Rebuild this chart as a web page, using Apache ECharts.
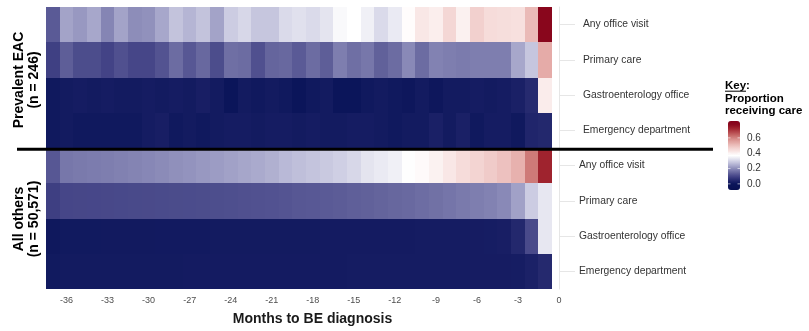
<!DOCTYPE html>
<html>
<head>
<meta charset="utf-8">
<script src="https://cdn.jsdelivr.net/npm/echarts@6/dist/echarts.min.js"></script>
<style>
  html, body { margin: 0; padding: 0; background: #ffffff; }
  #chart { width: 809px; height: 331px; }
</style>
</head>
<body>
<div id="chart"></div>
<script>
// Months before the BE diagnosis (one tile per month)
const months = [-37, -36, -35, -34, -33, -32, -31, -30, -29, -28, -27, -26, -25, -24, -23, -22, -21, -20, -19,
                -18, -17, -16, -15, -14, -13, -12, -11, -10, -9, -8, -7, -6, -5, -4, -3, -2, -1];

const xTickValues = [-36, -33, -30, -27, -24, -21, -18, -15, -12, -9, -6, -3, 0];

// Rows, top to bottom: group | type of care
const rowKeys = [
  'EAC|Any office visit', 'EAC|Primary care', 'EAC|Gastroenterology office', 'EAC|Emergency department',
  'OTH|Any office visit', 'OTH|Primary care', 'OTH|Gastroenterology office', 'OTH|Emergency department'
];

// Prevalent EAC (n = 246): proportion receiving each type of care per month
const eacAnyOffice = [0.130, 0.230, 0.215, 0.235, 0.190, 0.230, 0.200, 0.205, 0.235, 0.275, 0.255, 0.275, 0.230,
                      0.290, 0.305, 0.280, 0.280, 0.310, 0.320, 0.310, 0.325, 0.360, 0.370, 0.345, 0.310, 0.335,
                      0.375, 0.420, 0.405, 0.455, 0.400, 0.470, 0.445, 0.440, 0.435, 0.510, 0.790];
const eacPrimary   = [0.090, 0.135, 0.110, 0.110, 0.095, 0.115, 0.100, 0.100, 0.120, 0.155, 0.125, 0.150, 0.110,
                      0.160, 0.155, 0.115, 0.145, 0.150, 0.130, 0.155, 0.135, 0.180, 0.160, 0.170, 0.140, 0.155,
                      0.195, 0.155, 0.185, 0.180, 0.175, 0.180, 0.180, 0.180, 0.235, 0.280, 0.535];
const eacGI        = [0.010, 0.015, 0.020, 0.015, 0.020, 0.015, 0.015, 0.020, 0.015, 0.020, 0.015, 0.025, 0.015,
                      0.000, 0.015, 0.010, 0.015, 0.010, 0.000, 0.010, 0.015, 0.000, 0.000, 0.010, 0.015, 0.010,
                      0.005, 0.015, 0.005, 0.015, 0.015, 0.020, 0.015, 0.020, 0.030, 0.050, 0.410];
const eacED        = [0.010, 0.015, 0.010, 0.010, 0.010, 0.010, 0.010, 0.020, 0.025, 0.010, 0.015, 0.010, 0.015,
                      0.020, 0.020, 0.015, 0.020, 0.020, 0.015, 0.020, 0.015, 0.015, 0.020, 0.020, 0.015, 0.010,
                      0.015, 0.015, 0.030, 0.015, 0.030, 0.010, 0.020, 0.020, 0.010, 0.040, 0.045];

// All others (n = 50,571)
const othAnyOffice = [0.125, 0.170, 0.174, 0.177, 0.180, 0.184, 0.188, 0.193, 0.198, 0.204, 0.209, 0.215, 0.221,
                      0.228, 0.234, 0.240, 0.248, 0.262, 0.270, 0.277, 0.285, 0.294, 0.305, 0.325, 0.335, 0.345,
                      0.368, 0.380, 0.398, 0.420, 0.445, 0.462, 0.478, 0.497, 0.525, 0.610, 0.725];
const othPrimary   = [0.088, 0.100, 0.101, 0.102, 0.103, 0.104, 0.105, 0.106, 0.107, 0.108, 0.109, 0.110, 0.112,
                      0.113, 0.115, 0.117, 0.119, 0.122, 0.125, 0.127, 0.130, 0.133, 0.137, 0.140, 0.144, 0.148,
                      0.152, 0.157, 0.162, 0.168, 0.174, 0.180, 0.186, 0.195, 0.228, 0.290, 0.330];
const othGI        = [0.008, 0.012, 0.012, 0.012, 0.013, 0.013, 0.013, 0.013, 0.014, 0.014, 0.014, 0.014, 0.015,
                      0.015, 0.015, 0.015, 0.016, 0.016, 0.016, 0.016, 0.017, 0.017, 0.017, 0.017, 0.018, 0.018,
                      0.018, 0.019, 0.019, 0.020, 0.020, 0.021, 0.022, 0.025, 0.045, 0.105, 0.330];
const othED        = [0.012, 0.015, 0.015, 0.015, 0.015, 0.016, 0.016, 0.016, 0.016, 0.016, 0.017, 0.017, 0.017,
                      0.017, 0.017, 0.017, 0.018, 0.018, 0.018, 0.018, 0.018, 0.018, 0.019, 0.019, 0.019, 0.019,
                      0.019, 0.020, 0.020, 0.020, 0.020, 0.021, 0.021, 0.021, 0.022, 0.032, 0.048];

const rowValues = [eacAnyOffice, eacPrimary, eacGI, eacED, othAnyOffice, othPrimary, othGI, othED];

// Colour key
const keyMin = -0.08;
const keyMax = 0.82;
const keyTicks = [0.0, 0.2, 0.4, 0.6];

// Diverging navy - white - dark red ramp (value, colour)
const rampAnchors = [
  [-0.08, '#080f50'], [0.00, '#0b155a'], [0.03, '#1a2066'], [0.06, '#2c2f74'], [0.09, '#3f4083'],
  [0.12, '#535391'], [0.15, '#68689f'], [0.18, '#7e7eaf'], [0.21, '#9494be'], [0.24, '#aaaacd'],
  [0.27, '#bfbfda'], [0.30, '#d3d3e6'], [0.33, '#e7e7f1'], [0.37, '#ffffff'], [0.42, '#f9e7e6'],
  [0.47, '#f2d0ce'], [0.52, '#e8b4b1'], [0.57, '#dc9794'], [0.62, '#cb7371'], [0.67, '#b74b4f'],
  [0.72, '#a12530'], [0.77, '#8c0a1e'], [0.82, '#840019']
];

function hexToRgb(h) {
  return [parseInt(h.slice(1, 3), 16), parseInt(h.slice(3, 5), 16), parseInt(h.slice(5, 7), 16)];
}
function rampColor(v) {
  for (let k = 1; k < rampAnchors.length; k++) {
    const [v1, c1] = rampAnchors[k - 1];
    const [v2, c2] = rampAnchors[k];
    if (v <= v2 || k === rampAnchors.length - 1) {
      const t = Math.max(0, Math.min(1, (v - v1) / (v2 - v1)));
      const a = hexToRgb(c1), b = hexToRgb(c2);
      const c = a.map((x, j) => Math.round(x + (b[j] - x) * t));
      return 'rgb(' + c.join(',') + ')';
    }
  }
}
const rampStops = [];
for (let s = 0; s <= 90; s++) rampStops.push(rampColor(keyMin + (keyMax - keyMin) * s / 90));

// Tiles: [month, row index, proportion]
const cells = [];
rowValues.forEach((vals, r) => vals.forEach((v, i) => cells.push([months[i], r, v])));

const FONT = '"Liberation Sans", Arial, Helvetica, sans-serif';

// Layout of the colour key
const keyLeft = 728, keyTop = 121, keyW = 12, keyH = 69;
const keyY = v => keyTop + keyH - (v - keyMin) / (keyMax - keyMin) * keyH;

const chart = echarts.init(document.getElementById('chart'), null, { renderer: 'canvas' });

const graphics = [
  // divider between the two cohorts
  { type: 'line', shape: { x1: 17, y1: 149.3, x2: 713, y2: 149.3 }, style: { stroke: '#000', lineWidth: 3 }, z: 100 },
  {
    type: 'text', x: 27, y: 80, rotation: Math.PI / 2,
    style: { text: 'Prevalent EAC\n(n = 246)', fontFamily: FONT, fontSize: 14, fontWeight: 'bold',
             fill: '#000', align: 'center', verticalAlign: 'middle', lineHeight: 15 }
  },
  {
    type: 'text', x: 27, y: 219, rotation: Math.PI / 2,
    style: { text: 'All others\n(n = 50,571)', fontFamily: FONT, fontSize: 14, fontWeight: 'bold',
             fill: '#000', align: 'center', verticalAlign: 'middle', lineHeight: 15 }
  },
  // key title
  { type: 'text', x: 725, y: 85.5, style: { text: 'Key:', fontFamily: FONT, fontSize: 11.5, fontWeight: 'bold', fill: '#000', verticalAlign: 'middle' } },
  { type: 'line', shape: { x1: 725, y1: 91.2, x2: 746, y2: 91.2 }, style: { stroke: '#000', lineWidth: 1 } },
  { type: 'text', x: 725, y: 98.5, style: { text: 'Proportion', fontFamily: FONT, fontSize: 11.5, fontWeight: 'bold', fill: '#000', verticalAlign: 'middle' } },
  { type: 'text', x: 725, y: 110.5, style: { text: 'receiving care', fontFamily: FONT, fontSize: 11.5, fontWeight: 'bold', fill: '#000', verticalAlign: 'middle' } }
];
keyTicks.forEach(v => {
  const y = keyY(v);
  graphics.push({ type: 'text', x: 747, y: y, style: { text: v.toFixed(1), fontFamily: FONT, fontSize: 10, fill: '#333', verticalAlign: 'middle' }, z: 10 });
  graphics.push({ type: 'line', shape: { x1: keyLeft, y1: y, x2: keyLeft + 2.5, y2: y }, style: { stroke: '#fff', lineWidth: 0.6 }, z: 10 });
  graphics.push({ type: 'line', shape: { x1: keyLeft + keyW - 2.5, y1: y, x2: keyLeft + keyW, y2: y }, style: { stroke: '#fff', lineWidth: 0.6 }, z: 10 });
});

chart.setOption({
  animation: false,
  backgroundColor: '#ffffff',
  textStyle: { fontFamily: FONT },
  grid: { left: 46, top: 7, width: 513, height: 284, containLabel: false },
  xAxis: {
    type: 'value', min: -37.5, max: 0,
    axisLine: { show: false },
    axisTick: { show: false, customValues: xTickValues },
    axisLabel: { customValues: xTickValues, fontSize: 9, color: '#4d4d4d', margin: 7, fontFamily: FONT },
    splitLine: { show: true, lineStyle: { color: '#ebebeb', width: 1 } },
    name: 'Months to BE diagnosis', nameLocation: 'middle', nameGap: 23,
    nameTextStyle: { fontFamily: FONT, fontSize: 14, fontWeight: 'bold', color: '#1a1a1a', padding: [0, 0, 0, 20] }
  },
  yAxis: {
    type: 'category', data: rowKeys, inverse: true, position: 'right',
    axisLine: { show: true, lineStyle: { color: '#e6e6e6', width: 1 } },
    axisTick: { show: true, alignWithLabel: true, length: 16, lineStyle: { color: '#e6e6e6', width: 1 } },
    axisLabel: {
      margin: 20, fontSize: 10.3, color: '#333', fontFamily: FONT,
      formatter: k => {
        const [grp, name] = k.split('|');
        return grp === 'EAC' ? '{a|' + name + '}' : '{b|' + name + '}';
      },
      rich: {
        a: { fontSize: 10.3, color: '#333', fontFamily: FONT, padding: [0, 0, 0, 4] },
        b: { fontSize: 10.3, color: '#333', fontFamily: FONT }
      }
    },
    splitLine: { show: false }
  },
  visualMap: {
    type: 'continuous', seriesIndex: 0, dimension: 2,
    min: keyMin, max: keyMax, calculable: false, realtime: false, hoverLink: false,
    orient: 'vertical', left: keyLeft, top: keyTop, padding: 0,
    itemWidth: keyW, itemHeight: keyH, text: null, showLabel: false,
    inRange: { color: rampStops }
  },
  series: [{
    type: 'custom',
    data: cells,
    encode: { x: 0, y: 1 },
    renderItem: (params, api) => {
      const m = api.value(0), r = api.value(1);
      const p0 = api.coord([m - 0.5, r]);
      const p1 = api.coord([m + 0.5, r]);
      const h = api.size([0, 1])[1];
      // snap tile edges to whole pixels so neighbouring tiles meet without seams
      const x0 = Math.round(p0[0]), x1 = Math.round(p1[0]);
      const y0 = Math.round(p0[1] - h / 2), y1 = Math.round(p0[1] + h / 2);
      return {
        type: 'rect',
        shape: { x: x0, y: y0, width: x1 - x0, height: y1 - y0 },
        style: { fill: api.visual('color') }
      };
    }
  }],
  graphic: graphics
});
</script>
</body>
</html>
